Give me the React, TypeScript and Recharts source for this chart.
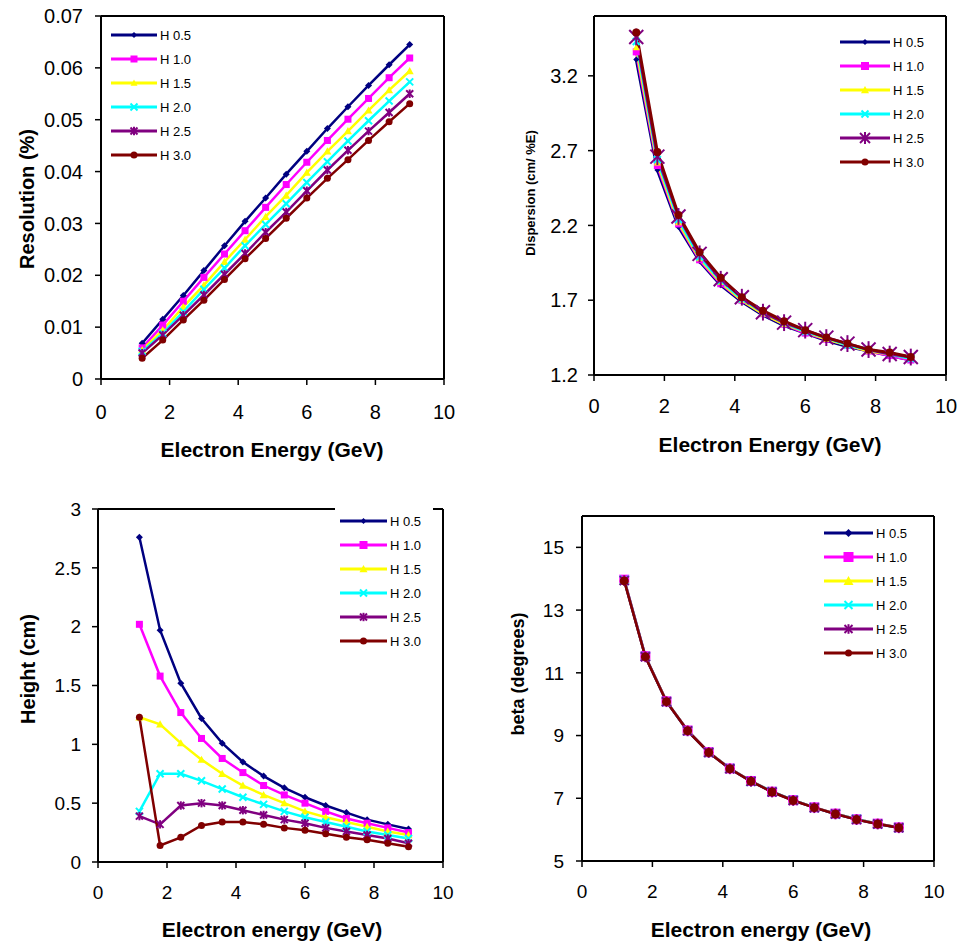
import React from 'react';
import { LineChart, Line, XAxis, YAxis, Legend, ReferenceLine } from 'recharts';

// --- Data ---

const energy = [1.2, 1.8, 2.4, 3.0, 3.6, 4.2, 4.8, 5.4, 6.0, 6.6, 7.2, 7.8, 8.4, 9.0];
const seriesNames = ['H 0.5', 'H 1.0', 'H 1.5', 'H 2.0', 'H 2.5', 'H 3.0'];
const energyTicks = [0, 2, 4, 6, 8, 10];

// Resolution (%)
const resH05 = [0.0069, 0.0115, 0.0161, 0.0209, 0.0257, 0.0304, 0.0349, 0.0395, 0.0439, 0.0483, 0.0525, 0.0566, 0.0606, 0.0645];
const resH10 = [0.006, 0.0104, 0.015, 0.0196, 0.0241, 0.0286, 0.0331, 0.0375, 0.0418, 0.046, 0.0501, 0.0541, 0.0581, 0.0619];
const resH15 = [0.0056, 0.0094, 0.0139, 0.0181, 0.0226, 0.0269, 0.0313, 0.0354, 0.0398, 0.0439, 0.0478, 0.0518, 0.0557, 0.0594];
const resH20 = [0.0053, 0.0088, 0.013, 0.0173, 0.0214, 0.0257, 0.0298, 0.0338, 0.0379, 0.0419, 0.0459, 0.0498, 0.0536, 0.0573];
const resH25 = [0.005, 0.0085, 0.0123, 0.0162, 0.0202, 0.0242, 0.0283, 0.0322, 0.0363, 0.0403, 0.0441, 0.0478, 0.0514, 0.055];
const resH30 = [0.004, 0.0075, 0.0114, 0.0152, 0.0192, 0.0232, 0.0271, 0.031, 0.0349, 0.0387, 0.0423, 0.046, 0.0496, 0.0531];
const resTicks = [0, 0.01, 0.02, 0.03, 0.04, 0.05, 0.06, 0.07];

// Dispersion (cm/ %E)
const dspH05 = [3.31, 2.57, 2.19, 1.96, 1.8, 1.69, 1.6, 1.53, 1.48, 1.43, 1.39, 1.36, 1.33, 1.3];
const dspH10 = [3.36, 2.6, 2.21, 1.97, 1.81, 1.7, 1.61, 1.54, 1.48, 1.44, 1.4, 1.36, 1.33, 1.3];
const dspH15 = [3.39, 2.62, 2.22, 1.98, 1.82, 1.7, 1.61, 1.54, 1.49, 1.44, 1.4, 1.36, 1.34, 1.31];
const dspH20 = [3.43, 2.64, 2.24, 1.99, 1.83, 1.71, 1.62, 1.55, 1.49, 1.45, 1.4, 1.37, 1.34, 1.31];
const dspH25 = [3.46, 2.66, 2.26, 2.01, 1.84, 1.72, 1.62, 1.55, 1.5, 1.45, 1.41, 1.37, 1.34, 1.32];
const dspH30 = [3.49, 2.69, 2.27, 2.02, 1.85, 1.72, 1.63, 1.56, 1.5, 1.45, 1.41, 1.37, 1.35, 1.32];
const dspTicks = [1.2, 1.7, 2.2, 2.7, 3.2];

// Height (cm)
const hgtH05 = [2.76, 1.97, 1.52, 1.22, 1.01, 0.85, 0.73, 0.63, 0.55, 0.48, 0.42, 0.36, 0.32, 0.28];
const hgtH10 = [2.02, 1.58, 1.27, 1.05, 0.88, 0.76, 0.65, 0.57, 0.5, 0.43, 0.37, 0.33, 0.29, 0.25];
const hgtH15 = [1.23, 1.17, 1.01, 0.87, 0.75, 0.65, 0.57, 0.5, 0.43, 0.38, 0.34, 0.3, 0.26, 0.23];
const hgtH20 = [0.43, 0.75, 0.75, 0.69, 0.62, 0.55, 0.49, 0.43, 0.38, 0.34, 0.3, 0.26, 0.23, 0.2];
const hgtH25 = [0.39, 0.32, 0.48, 0.5, 0.48, 0.44, 0.4, 0.36, 0.33, 0.29, 0.26, 0.23, 0.2, 0.16];
const hgtH30 = [1.23, 0.14, 0.21, 0.31, 0.34, 0.34, 0.32, 0.29, 0.27, 0.24, 0.21, 0.19, 0.16, 0.13];
const hgtTicks = [0, 0.5, 1, 1.5, 2, 2.5, 3];

// beta (degrees)
const betH05 = [13.97, 11.53, 10.09, 9.16, 8.47, 7.95, 7.55, 7.21, 6.94, 6.71, 6.51, 6.33, 6.19, 6.07];
const betH10 = [13.97, 11.53, 10.09, 9.16, 8.47, 7.95, 7.55, 7.21, 6.94, 6.71, 6.51, 6.33, 6.19, 6.07];
const betH15 = [13.96, 11.52, 10.09, 9.16, 8.47, 7.95, 7.55, 7.21, 6.94, 6.71, 6.51, 6.33, 6.19, 6.07];
const betH20 = [13.95, 11.52, 10.08, 9.15, 8.46, 7.95, 7.54, 7.21, 6.94, 6.7, 6.5, 6.33, 6.18, 6.06];
const betH25 = [13.94, 11.51, 10.08, 9.15, 8.46, 7.94, 7.54, 7.2, 6.93, 6.7, 6.5, 6.32, 6.18, 6.06];
const betH30 = [13.93, 11.51, 10.08, 9.15, 8.46, 7.94, 7.54, 7.2, 6.93, 6.7, 6.5, 6.32, 6.18, 6.06];
const betTicks = [5, 7, 9, 11, 13, 15];

// --- Styling ---

const FONT = '"Liberation Sans", Arial, sans-serif';
const COLORS = ['#000080', '#ff00ff', '#ffff00', '#00ffff', '#800080', '#800000'];
const SHAPES = ['diamond', 'square', 'triangle', 'cross', 'star', 'circle'];

const buildRows = (cols: number[][]) =>
    energy.map((e, i) => {
        const row: any = { e };
        cols.forEach((c, k) => { row[`s${k}`] = c[i]; });
        return row;
    });

const Marker = ({ cx, cy, shape, color, r }: any) => {
    if (cx == null || cy == null) return null;
    switch (shape) {
        case 'diamond':
            return <polygon points={`${cx},${cy - r} ${cx + r},${cy} ${cx},${cy + r} ${cx - r},${cy}`} fill={color} />;
        case 'square':
            return <rect x={cx - r} y={cy - r} width={2 * r} height={2 * r} fill={color} />;
        case 'triangle':
            return <polygon points={`${cx},${cy - r} ${cx + r},${cy + r * 0.8} ${cx - r},${cy + r * 0.8}`} fill={color} />;
        case 'cross':
            return (
                <g stroke={color} strokeWidth={2}>
                    <line x1={cx - r} y1={cy - r} x2={cx + r} y2={cy + r} />
                    <line x1={cx - r} y1={cy + r} x2={cx + r} y2={cy - r} />
                </g>
            );
        case 'star':
            return (
                <g stroke={color} strokeWidth={2}>
                    <line x1={cx - r} y1={cy - r} x2={cx + r} y2={cy + r} />
                    <line x1={cx - r} y1={cy + r} x2={cx + r} y2={cy - r} />
                    <line x1={cx} y1={cy - r * 1.2} x2={cx} y2={cy + r * 1.2} />
                </g>
            );
        default:
            return <circle cx={cx} cy={cy} r={r} fill={color} />;
    }
};

const LegendBox = ({ sizes, lineLen }: { sizes: number[]; lineLen: number }) => (
    <svg width={lineLen + 40} height={seriesNames.length * 24} style={{ display: 'block' }}>
        {seriesNames.map((name, i) => {
            const y = 12 + i * 24;
            return (
                <g key={name}>
                    <line x1={0} y1={y} x2={lineLen} y2={y} stroke={COLORS[i]} strokeWidth={3} />
                    <Marker cx={lineLen / 2} cy={y} shape={SHAPES[i]} color={COLORS[i]} r={sizes[i]} />
                    <text x={lineLen + 3} y={y} dominantBaseline="central" fontFamily={FONT} fontSize={13} fill="#000">
                        {name}
                    </text>
                </g>
            );
        })}
    </svg>
);

const title = (text: string, x: number, y: number, size: number, rotate: boolean) => ({
    content: () => (
        <text
            x={x}
            y={y}
            textAnchor="middle"
            dominantBaseline="central"
            transform={rotate ? `rotate(-90 ${x} ${y})` : undefined}
            fontFamily={FONT}
            fontWeight="bold"
            fontSize={size}
            fill="#000"
        >
            {text}
        </text>
    ),
});

type PanelProps = {
    left: number; top: number; width: number; height: number;
    margin: { top: number; right: number; left: number; bottom: number };
    yWidth: number; xHeight: number;
    cols: number[][];
    yDomain: [number, number]; yTicks: number[];
    yTitle: string; yTitleAt: [number, number]; yTitleSize: number;
    xTitle: string; xTitleAt: [number, number];
    xTickMargin: number; yTickMargin: number; tickSize: number;
    legendAt: [number, number]; legendLine: number; legendSizes: number[]; legendBg?: boolean;
    sizes: number[]; lineWidth: number;
};

const Panel = (p: PanelProps) => {
    const rows = buildRows(p.cols);
    const tickStyle = { fontFamily: FONT, fontSize: p.tickSize, fill: '#000' };
    return (
        <div style={{ position: 'absolute', left: p.left, top: p.top }}>
            <LineChart width={p.width} height={p.height} data={rows} margin={p.margin}>
                <XAxis
                    dataKey="e"
                    type="number"
                    domain={[0, 10]}
                    ticks={energyTicks}
                    height={p.xHeight}
                    stroke="#000"
                    axisLine={{ stroke: '#000', strokeWidth: 2 }}
                    tickLine={{ stroke: '#000', strokeWidth: 1.5 }}
                    tickSize={6}
                    tickMargin={p.xTickMargin}
                    tick={tickStyle}
                    label={title(p.xTitle, p.xTitleAt[0], p.xTitleAt[1], 21, false)}
                />
                <YAxis
                    type="number"
                    domain={p.yDomain}
                    ticks={p.yTicks}
                    width={p.yWidth}
                    allowDataOverflow
                    axisLine={{ stroke: '#000', strokeWidth: 2 }}
                    tickLine={{ stroke: '#000', strokeWidth: 1.5 }}
                    tickSize={6}
                    tickMargin={p.yTickMargin}
                    tick={tickStyle}
                    label={title(p.yTitle, p.yTitleAt[0], p.yTitleAt[1], p.yTitleSize, true)}
                />
                <ReferenceLine y={p.yDomain[1]} stroke="#000" strokeWidth={2} />
                <ReferenceLine x={10} stroke="#000" strokeWidth={2} />
                <Legend
                    layout="vertical"
                    align="center"
                    verticalAlign="middle"
                    content={() => <LegendBox sizes={p.legendSizes} lineLen={p.legendLine} />}
                    wrapperStyle={{
                        left: p.legendAt[0],
                        top: p.legendAt[1],
                        width: 'auto',
                        background: p.legendBg ? '#fff' : 'transparent',
                        padding: p.legendBg ? '2px 6px 2px 5px' : 0,
                        marginLeft: p.legendBg ? -5 : 0,
                        marginTop: p.legendBg ? -2 : 0,
                    }}
                />
                {seriesNames.map((name, k) => (
                    <Line
                        key={name}
                        dataKey={`s${k}`}
                        name={name}
                        type="linear"
                        stroke={COLORS[k]}
                        strokeWidth={p.lineWidth}
                        isAnimationActive={false}
                        dot={(d: any) => (
                            <Marker key={`${name}-${d.index}`} cx={d.cx} cy={d.cy} shape={SHAPES[k]} color={COLORS[k]} r={p.sizes[k]} />
                        )}
                        activeDot={false}
                    />
                ))}
            </LineChart>
        </div>
    );
};

export default function App() {
    return (
        <div style={{ position: 'absolute', left: 0, top: 0, width: 963, height: 948, background: '#fff' }}>
            <Panel
                left={0} top={0} width={470} height={470}
                margin={{ top: 16, right: 26, left: 0, bottom: 0 }}
                yWidth={101} xHeight={91}
                cols={[resH05, resH10, resH15, resH20, resH25, resH30]}
                yDomain={[0, 0.07]} yTicks={resTicks}
                yTitle="Resolution (%)" yTitleAt={[27, 199]} yTitleSize={20}
                xTitle="Electron Energy (GeV)" xTitleAt={[272, 449]}
                xTickMargin={20} yTickMargin={12} tickSize={20}
                legendAt={[111, 23]} legendLine={46} legendSizes={[3, 3.5, 3.5, 3.5, 3.5, 3.5]}
                sizes={[3.5, 3.5, 4, 3.5, 3.5, 3.5]} lineWidth={2.5}
            />
            <Panel
                left={480} top={0} width={483} height={470}
                margin={{ top: 16, right: 17, left: 0, bottom: 0 }}
                yWidth={114} xHeight={95}
                cols={[dspH05, dspH10, dspH15, dspH20, dspH25, dspH30]}
                yDomain={[1.2, 3.6]} yTicks={dspTicks}
                yTitle="Dispersion (cm/ %E)" yTitleAt={[50, 193]} yTitleSize={13}
                xTitle="Electron Energy (GeV)" xTitleAt={[290, 444]}
                xTickMargin={18} yTickMargin={10} tickSize={20}
                legendAt={[360, 30]} legendLine={50} legendSizes={[3, 4, 4, 3.5, 5, 3.5]}
                sizes={[3, 3.5, 3.5, 3.5, 7, 4]} lineWidth={3}
            />
            <Panel
                left={0} top={470} width={470} height={478}
                margin={{ top: 39, right: 27, left: 0, bottom: 0 }}
                yWidth={98} xHeight={86}
                cols={[hgtH05, hgtH10, hgtH15, hgtH20, hgtH25, hgtH30]}
                yDomain={[0, 3]} yTicks={hgtTicks}
                yTitle="Height (cm)" yTitleAt={[28, 199]} yTitleSize={20}
                xTitle="Electron energy (GeV)" xTitleAt={[272, 459]}
                xTickMargin={18} yTickMargin={11} tickSize={19}
                legendAt={[340, 39]} legendLine={47} legendSizes={[3, 4, 4, 3.5, 3.5, 3.5]} legendBg
                sizes={[3.5, 3.5, 4, 3.5, 3.5, 3.5]} lineWidth={2.5}
            />
            <Panel
                left={480} top={470} width={483} height={478}
                margin={{ top: 46, right: 29, left: 0, bottom: 0 }}
                yWidth={102} xHeight={87}
                cols={[betH05, betH10, betH15, betH20, betH25, betH30]}
                yDomain={[5, 16]} yTicks={betTicks}
                yTitle="beta (degrees)" yTitleAt={[38, 204]} yTitleSize={18}
                xTitle="Electron energy (GeV)" xTitleAt={[281, 459]}
                xTickMargin={18} yTickMargin={12} tickSize={19}
                legendAt={[344, 51]} legendLine={49} legendSizes={[4, 5, 5, 4, 4, 3.5]}
                sizes={[4.5, 5, 5, 4.5, 4.5, 4.5]} lineWidth={2.5}
            />
        </div>
    );
}
